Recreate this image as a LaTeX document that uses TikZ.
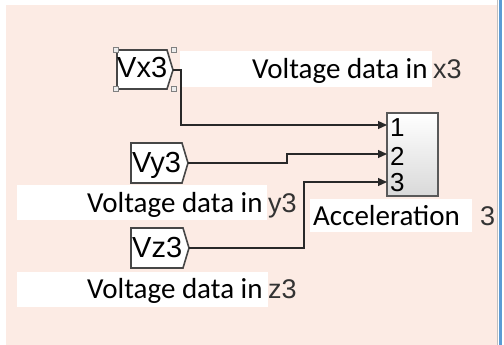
\documentclass[tikz,border=0pt]{standalone}
\usepackage{fontspec}
\setmainfont{Carlito}
\newfontfamily\arialf{Liberation Sans}
\usetikzlibrary{arrows.meta}
\definecolor{bgpink}{RGB}{252,235,228}
\definecolor{edgeblue}{RGB}{91,155,213}
\definecolor{wirec}{RGB}{40,40,40}
\definecolor{tagedge}{RGB}{70,70,70}
\begin{document}
\begin{tikzpicture}[x=1pt,y=-1pt,
  tag/.style={draw=tagedge, line width=1.6pt, fill=white, line join=miter},
  handle/.style={draw=gray, fill=gray!15, line width=0.6pt, minimum size=5pt, inner sep=0pt},
  wirest/.style={draw=wirec, line width=1.2pt},
  arr/.style={wirest, -{Triangle[length=9pt,width=8pt]}},
  vtext/.style={font=\fontsize{29}{29}\selectfont, inner sep=0pt, anchor=base west},
  suffix/.style={font=\arialf\fontsize{27}{27}\selectfont, text=black!80, inner sep=0pt, anchor=base west},
  taglbl/.style={font=\arialf\fontsize{29}{29}\selectfont, inner sep=0pt, anchor=base west},
  portnum/.style={font=\arialf\fontsize{26}{26}\selectfont, inner sep=0pt, anchor=west},
  whitebox/.style={fill=white, draw=none}]
\useasboundingbox (0,0) rectangle (504,345);
\fill[white] (0,0) rectangle (504,345);
\fill[bgpink] (6,5) rectangle (497,345);
\draw[gray!50, line width=0.8pt] (497.5,0) -- (497.5,345);
\fill[edgeblue] (499,0) rectangle (502,345);
% white label boxes
\path[whitebox] (180,51) rectangle (432,87);
\path[whitebox] (17,185) rectangle (267,220);
\path[whitebox] (17,272) rectangle (268,307);
\path[whitebox] (310,199) rectangle (472,232);
% texts
\node[vtext] (tx) at (252,79) {Voltage data in};
\node[suffix] (sx) at (433,79) {x3};
\node[vtext] (ty) at (87,212) {Voltage data in};
\node[suffix] (sy) at (268,212) {y3};
\node[vtext] (tz) at (87,298) {Voltage data in};
\node[suffix] (sz) at (268,298) {z3};
\node[vtext] (acc) at (313,225) {Acceleration};
\node[suffix] (acc3) at (480,225) {3};
% goto tags
\draw[tag] (117,50) -- (167,50) -- (173,70) -- (167,89) -- (117,89) -- cycle;
\coordinate (vxo) at (173,70);
\node[taglbl] (vx) at (117,78) {Vx3};
\node[handle] (h1) at (116,50) {};
\node[handle] (h2) at (174,50) {};
\node[handle] (h3) at (116,89) {};
\node[handle] (h4) at (174,89) {};
\draw[tag] (131,143) -- (182,143) -- (188,163) -- (182,183) -- (131,183) -- cycle;
\coordinate (vyo) at (188,163);
\node[taglbl] (vy) at (132,172) {Vy3};
\draw[tag] (131,228) -- (183,228) -- (189,248) -- (183,268) -- (131,268) -- cycle;
\coordinate (vzo) at (189,248);
\node[taglbl] (vz) at (132,257) {Vz3};
% block
\node[draw=gray!70!black, line width=1.4pt, top color=white, bottom color=gray!30,
      minimum width=51pt, minimum height=83pt, inner sep=0pt] (blk) at (412.5,154.5) {};
\coordinate (p1) at (387,125);
\coordinate (p2) at (387,154);
\coordinate (p3) at (387,182);
\node[portnum] (n1) at (390,128) {1};
\node[portnum] (n2) at (390,156) {2};
\node[portnum] (n3) at (390,183) {3};
% wires
\draw[arr] (vxo) -- ++(8,0) |- (p1);
\draw[arr] (vyo) -- (287,163) |- (p2);
\draw[arr] (vzo) -- (304,248) |- (p3);
\end{tikzpicture}
\end{document}
